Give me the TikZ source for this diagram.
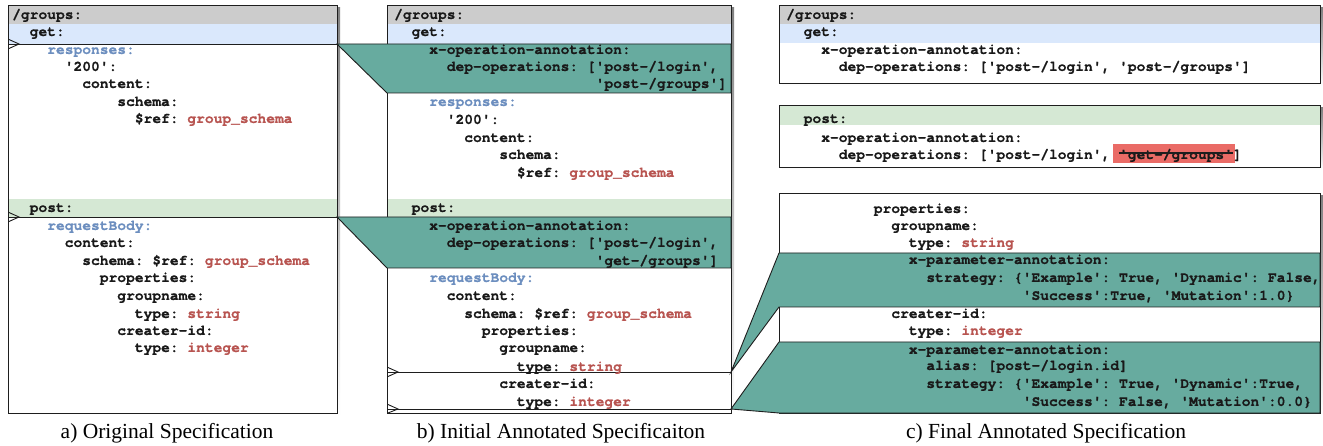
\documentclass[tikz,border=0pt]{standalone}
\usepackage{fontspec}
\setmainfont{Liberation Serif}
\setmonofont{texgyrecursor}[Extension=.otf, UprightFont=*-regular, BoldFont=*-bold, BoldFeatures={FakeBold=0.8}]
\definecolor{hdr}{HTML}{CCCCCC}
\definecolor{getc}{HTML}{DAE8FC}
\definecolor{postc}{HTML}{D5E8D4}
\definecolor{tealann}{HTML}{67AB9F}
\definecolor{hlred}{HTML}{EA6B66}
\definecolor{kblue}{HTML}{6C8EBF}
\definecolor{kred}{HTML}{B85450}
\definecolor{shade}{HTML}{BDBDBD}
\definecolor{edge}{HTML}{1E1E1E}
\tikzset{
  code/.style={font=\ttfamily\bfseries\fontsize{14.6}{17}\selectfont, inner sep=0pt, anchor=base west, text=black!90},
  box/.style={draw=edge, line width=0.9pt},
  ann/.style={fill=tealann, draw=edge, line width=0.9pt},
  sepline/.style={draw=edge, line width=0.9pt},
  caption/.style={font=\fontsize{21.5}{25}\selectfont, inner sep=0pt},
}
\newcommand\cl[5]{\node[code] (#1) at ({#2+#3*8.76},{#4+4.9}) {#5};}
\newcommand\kb[1]{\textcolor{kblue}{#1}}
\newcommand\kr[1]{\textcolor{kred}{#1}}
\begin{document}
\begin{tikzpicture}[x=1pt,y=-1pt]
\useasboundingbox (0,0) rectangle (1323,446);
\fill[white] (0,0) rectangle (1323,446);
% shadows
\fill[shade] (11,8) rectangle (340,416);
\fill[shade] (390,8) rectangle (734,416);
\fill[shade] (782,8) rectangle (1323,86);
\fill[shade] (782,108) rectangle (1323,170);
\fill[shade] (782,196) rectangle (1323,416);
% box fills
\fill[white] (8,5) rectangle (337,413);
\fill[white] (387,5) rectangle (731,413);
\fill[white] (779,5) rectangle (1320,83);
\fill[white] (779,105) rectangle (1320,167);
\fill[white] (779,193) rectangle (1320,413);
% bands
\fill[hdr] (8,5) rectangle (337,24);
\fill[getc] (8,24) rectangle (337,44);
\fill[postc] (8,199) rectangle (337,217);
\fill[hdr] (387,5) rectangle (731,24);
\fill[getc] (387,24) rectangle (731,44);
\fill[postc] (387,199) rectangle (731,217);
\fill[hdr] (779,5) rectangle (1320,24);
\fill[getc] (779,24) rectangle (1320,43);
\fill[postc] (779,105) rectangle (1320,125);
% borders
\draw[box] (8,5) rectangle (337,413);
\draw[box] (387,5) rectangle (731,413);
\draw[box] (779,5) rectangle (1320,83);
\draw[box] (779,105) rectangle (1320,167);
\draw[box] (779,193) rectangle (1320,413);
% separator lines with markers
\coordinate (aG) at (8,44); \coordinate (aGr) at (337,44);
\coordinate (aP) at (8,217); \coordinate (aPr) at (337,217);
\draw[sepline] (aG) -- (aGr);
\draw[sepline] (aP) -- (aPr);
\draw[sepline] (9,39.5) -- (19,44) -- (9,48.5);
\draw[sepline] (9,212.5) -- (19,217) -- (9,221.5);
% annotation connectors a -> b
\filldraw[ann] (aGr) -- (731,44) -- (731,93) -- (387,93) -- cycle;
\filldraw[ann] (aPr) -- (731,217) -- (731,268) -- (387,268) -- cycle;
% lines in b
\coordinate (bS) at (387,372); \coordinate (bSr) at (731,372);
\coordinate (bI) at (387,409); \coordinate (bIr) at (731,409);
\draw[sepline] (bS) -- (bSr);
\draw[sepline] (bI) -- (bIr);
\draw[sepline] (388,367.5) -- (398,372) -- (388,376.5);
\draw[sepline] (388,404.5) -- (398,409) -- (388,413);
% annotation connectors b -> c
\filldraw[ann] (bSr) -- (779,253) -- (1320,253) -- (1320,307) -- (779,307) -- cycle;
\filldraw[ann] (bIr) -- (779,342) -- (1320,342) -- (1320,413) -- (779,413) -- cycle;
% highlight behind removed operation
\fill[hlred] (1113,144) rectangle (1235,163);
% ---- box a text
\cl{a1}{12}{0}{14}{/groups:}
\cl{a2}{12}{2}{31}{get:}
\cl{a3}{12}{4}{49}{\kb{responses:}}
\cl{a4}{12}{6}{66}{'200':}
\cl{a5}{12}{8}{83}{content:}
\cl{a6}{12}{12}{101}{schema:}
\cl{a7}{12}{14}{118}{\$ref: \kr{group\_schema}}
\cl{a8}{12}{2}{207}{post:}
\cl{a9}{12}{4}{225}{\kb{requestBody:}}
\cl{a10}{12}{6}{242}{content:}
\cl{a11}{12}{8}{260}{schema: \$ref: \kr{group\_schema}}
\cl{a12}{12}{10}{277}{properties:}
\cl{a13}{12}{12}{295}{groupname:}
\cl{a14}{12}{14}{313}{type: \kr{string}}
\cl{a15}{12}{12}{330}{creater-id:}
\cl{a16}{12}{14}{347}{type: \kr{integer}}
% ---- box b text
\cl{b1}{394}{0}{14}{/groups:}
\cl{b2}{394}{2}{31}{get:}
\cl{b3}{394}{4}{49}{x-operation-annotation:}
\cl{b4}{394}{6}{66}{dep-operations: ['post-/login',}
\cl{b5}{394}{23}{83}{'post-/groups']}
\cl{b6}{394}{4}{101}{\kb{responses:}}
\cl{b7}{394}{6}{119}{'200':}
\cl{b8}{394}{8}{137}{content:}
\cl{b9}{394}{12}{154}{schema:}
\cl{b10}{394}{14}{172}{\$ref: \kr{group\_schema}}
\cl{b11}{394}{2}{207}{post:}
\cl{b12}{394}{4}{225}{x-operation-annotation:}
\cl{b13}{394}{6}{242}{dep-operations: ['post-/login',}
\cl{b14}{394}{23}{260}{'get-/groups']}
\cl{b15}{394}{4}{277}{\kb{requestBody:}}
\cl{b16}{394}{6}{295}{content:}
\cl{b17}{394}{8}{313}{schema: \$ref: \kr{group\_schema}}
\cl{b18}{394}{10}{330}{properties:}
\cl{b19}{394}{12}{347}{groupname:}
\cl{b20}{394}{14}{366}{type: \kr{string}}
\cl{b21}{394}{12}{383}{creater-id:}
\cl{b22}{394}{14}{401}{type: \kr{integer}}
% ---- box c text
\cl{c1}{786}{0}{14}{/groups:}
\cl{c2}{786}{2}{31}{get:}
\cl{c3}{786}{4}{49}{x-operation-annotation:}
\cl{c4}{786}{6}{66}{dep-operations: ['post-/login', 'post-/groups']}
\cl{c5}{786}{2}{118}{post:}
\cl{c6}{786}{4}{137}{x-operation-annotation:}
\cl{c7}{786}{6}{154}{dep-operations: ['post-/login',}
\cl{c8}{786}{38}{154}{'get-/groups'}
\cl{c9}{786}{51}{154}{]}
\draw[sepline, line width=1.2pt] (c8.west |- 0,153) -- (c8.east |- 0,153);
\cl{c10}{786}{10}{208}{properties:}
\cl{c11}{786}{12}{225}{groupname:}
\cl{c12}{786}{14}{242}{type: \kr{string}}
\cl{c13}{786}{14}{259}{x-parameter-annotation:}
\cl{c14}{786}{16}{277}{strategy: \{'Example': True, 'Dynamic': False,}
\cl{c15}{786}{27}{295}{'Success':True, 'Mutation':1.0\}}
\cl{c16}{786}{12}{313}{creater-id:}
\cl{c17}{786}{14}{330}{type: \kr{integer}}
\cl{c18}{786}{14}{349}{x-parameter-annotation:}
\cl{c19}{786}{16}{365}{alias: [post-/login.id]}
\cl{c20}{786}{16}{383}{strategy: \{'Example': True, 'Dynamic':True,}
\cl{c21}{786}{27}{401}{'Success': False, 'Mutation':0.0\}}
% captions
\node[caption] (capa) at (167,433) {a) Original Specification};
\node[caption] (capb) at (561,433) {b) Initial Annotated Specificaiton};
\node[caption] (capc) at (1046,433) {c) Final Annotated Specification};
\end{tikzpicture}
\end{document}
